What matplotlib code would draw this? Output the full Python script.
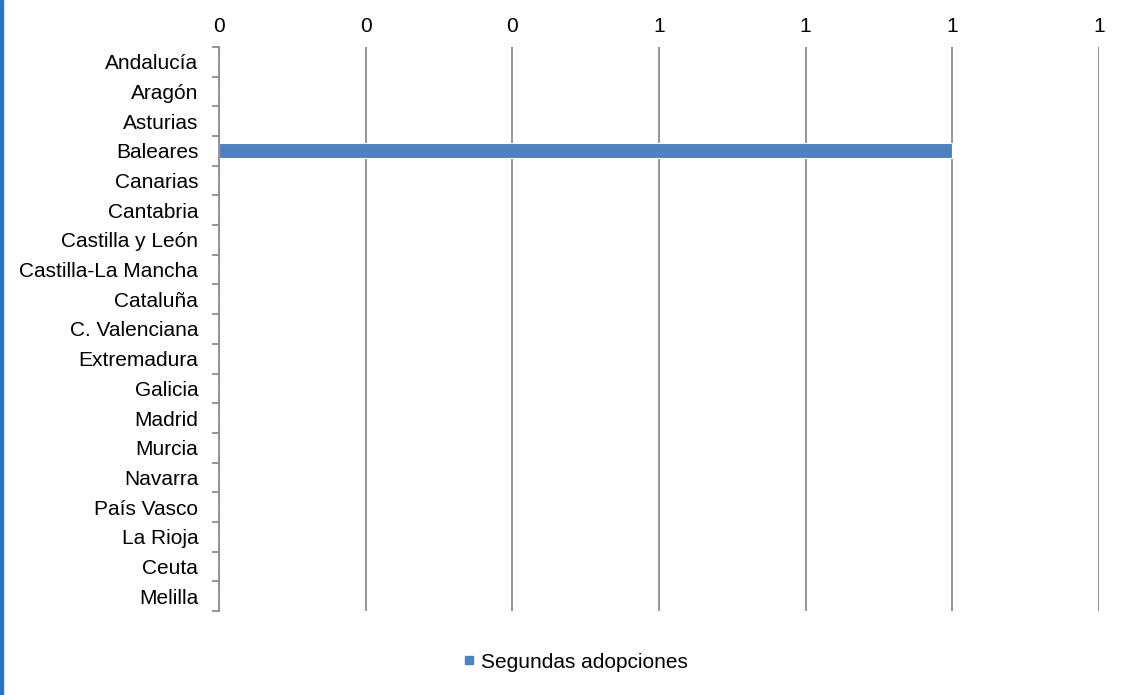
import matplotlib
matplotlib.use("Agg")
import matplotlib.pyplot as plt
from matplotlib.patches import Rectangle
from matplotlib.lines import Line2D

categories = ["Andalucía", "Aragón", "Asturias", "Baleares", "Canarias", "Cantabria",
              "Castilla y León", "Castilla-La Mancha", "Cataluña", "C. Valenciana",
              "Extremadura", "Galicia", "Madrid", "Murcia", "Navarra", "País Vasco",
              "La Rioja", "Ceuta", "Melilla"]
values = [0, 0, 0, 1, 0, 0, 0, 0, 0, 0, 0, 0, 0, 0, 0, 0, 0, 0, 0]
x_ticks = [0, 0.2, 0.4, 0.6, 0.8, 1.0, 1.2]
x_tick_labels = ["0", "0", "0", "1", "1", "1", "1"]
series_name = "Segundas adopciones"

plt.rcParams['font.family'] = ['Liberation Sans', 'DejaVu Sans']

W, H = 1129, 695
fig = plt.figure(figsize=(W / 100, H / 100), dpi=100)
ax = fig.add_axes([219 / W, 1 - 611 / H, (1099 - 219) / W, (611 - 47) / H])

bar_color = "#4F81BD"
grid_color = "#8C8C8C"
fs = 15
n = len(categories)
ypos = list(range(n))
ax.barh(ypos, values, height=0.5, color=bar_color, zorder=3, edgecolor="white", linewidth=0.8)
ax.set_ylim(n - 0.5, -0.5)
ax.set_xlim(0, 1.2)

ax.xaxis.tick_top()
ax.set_xticks(x_ticks)
ax.set_xticklabels(x_tick_labels, fontsize=fs)
ax.tick_params(axis='x', length=0, pad=8)
ax.grid(axis='x', color=grid_color, linewidth=1.3, zorder=1)

ax.set_yticks(ypos)
ax.set_yticklabels(categories, fontsize=fs)
ax.tick_params(axis='y', length=0, pad=15)
ax.set_yticks([i - 0.5 for i in range(n + 1)], minor=True)
ax.tick_params(axis='y', which='minor', length=5, width=1.3, color=grid_color)

for s in ["top", "right", "bottom"]:
    ax.spines[s].set_visible(False)
ax.spines["left"].set_color(grid_color)
ax.spines["left"].set_linewidth(1.3)
ax.spines["left"].set_zorder(5)

handle = Line2D([], [], marker='s', linestyle='none', markersize=6,
                markerfacecolor=bar_color, markeredgecolor=bar_color)
fig.legend([handle], [series_name], loc='center', bbox_to_anchor=(573 / W, 1 - 662 / H),
           frameon=False, fontsize=fs, handletextpad=0.1, handlelength=1.0)

# blue left border of the chart area
fig.add_artist(Rectangle((0, 0), 3 / W, 1, transform=fig.transFigure,
                         color="#2E75B6", zorder=10))

fig.savefig("out.png", dpi=100)
